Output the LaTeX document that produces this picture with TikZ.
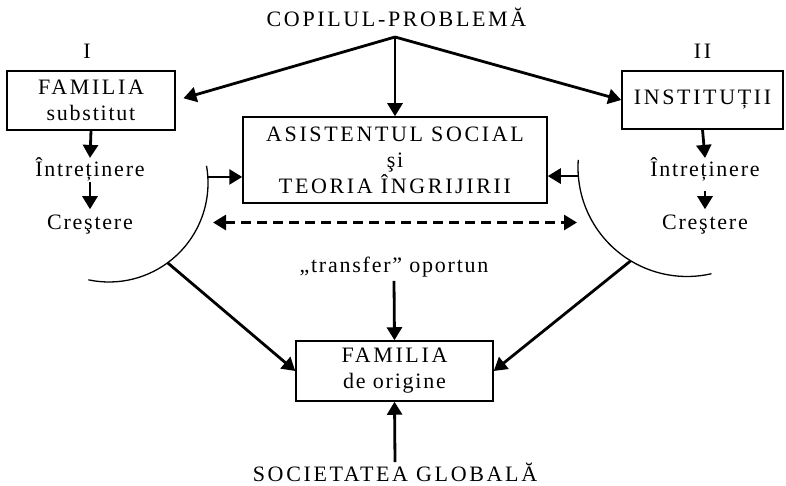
\documentclass[tikz,border=0pt]{standalone}
\usepackage{fontspec}
\setmainfont{Liberation Serif}[LetterSpace=12]
\newfontfamily\lowsp{Liberation Serif}[LetterSpace=8]
\usetikzlibrary{calc,arrows.meta}

\begin{document}
\begin{tikzpicture}[x=10pt,y=10pt,
    font=\fontsize{22}{26}\selectfont,
    box/.style={draw, line width=1.5pt, align=center, inner sep=0pt},
    lbl/.style={anchor=base, inner sep=0pt},
    arr/.style={line width=2.8pt, -{Triangle[length=13pt,width=15pt]}},
    dblarr/.style={line width=2.8pt, dash pattern=on 10pt off 6pt,
        {Triangle[length=13pt,width=15pt]}-{Triangle[length=13pt,width=15pt]}},
    curve/.style={line width=1.3pt}]
    \useasboundingbox (0,0) rectangle (78.6,48.5);

    \node[lbl] (copil) at (39.65,45.83) {COPILUL-PROBLEMĂ};
    \coordinate (src) at (39.5,44.8);

    \node[lbl] (nrI) at (8.7,42.6) {I};
    \node[lbl] (nrII) at (70.25,42.6) {II};

    \node[box, minimum width=168pt, minimum height=59pt] (famS) at (9.1,38.45) {FAMILIA\\\lowsp substitut};
    \node[box, minimum width=161pt, minimum height=58pt] (inst) at (70.25,38.5) {INSTITUȚII};
    \node[box, minimum width=304pt, minimum height=86pt] (asist) at (39.5,32.5)
        {ASISTENTUL SOCIAL\\\lowsp şi\\TEORIA ÎNGRIJIRII};

    \node[lbl] (intL) at (9.0,30.8) {\lowsp Întreținere};
    \node[lbl, inner ysep=6pt] (creL) at (9.0,25.5) {\lowsp Creştere};
    \node[lbl] (intR) at (70.5,30.8) {\lowsp Întreținere};
    \node[lbl, inner ysep=6pt] (creR) at (70.5,25.5) {\lowsp Creştere};

    \node[lbl, inner ysep=4pt] (transf) at (39.4,21.3) {\lowsp „transfer” oportun};
    \node[box, minimum width=197pt, minimum height=60pt] (famO) at (39.45,11.4) {FAMILIA\\\lowsp de origine};
    \node[lbl] (soc) at (39.5,0.4) {SOCIETATEA GLOBALĂ};

    % arcs
    \coordinate (cL) at (10.9,30.2);
    \coordinate (cR) at (68.7,31.75);
    \draw[curve] ($(cL)+(10:99pt)$) arc[start angle=10, end angle=-102, radius=99pt];
    \draw[curve] ($(cR)+(176:109pt)$) arc[start angle=176, end angle=283, radius=109pt];
    \coordinate (aL) at ($(cL)+(3.5:99pt)$);
    \coordinate (aR) at ($(cR)+(184.5:109pt)$);
    \coordinate (bL) at ($(cL)+(-53.7:99pt)$);
    \coordinate (bR) at ($(cR)+(238.9:109pt)$);
    \coordinate (dL) at (21.3,26.25);
    \coordinate (dR) at (57.7,26.25);

    \draw[arr, shorten >=8pt] (src) -- (famS.east);
    \draw[arr] (src) -- (asist.north);
    \draw[arr] (src) -- (inst.west);

    \draw[arr] (famS.south) -- (intL.north);
    \draw[arr] (intL.south) -- (creL.north);
    \draw[arr] (inst.south) -- (intR.north);
    \draw[arr, shorten <=9pt] (intR.south) -- (creR.north);

    \draw[arr] (aL) -- (aL -| asist.west);
    \draw[arr] (aR) -- (aR -| asist.east);
    \draw[dblarr] (dL) -- (dR);

    \draw[arr] (bL) -- (famO.west);
    \draw[arr] (bR) -- (famO.east);
    \draw[arr] (transf.south) -- (famO.north);
    \draw[arr] (soc.north) -- (famO.south);
\end{tikzpicture}
\end{document}
